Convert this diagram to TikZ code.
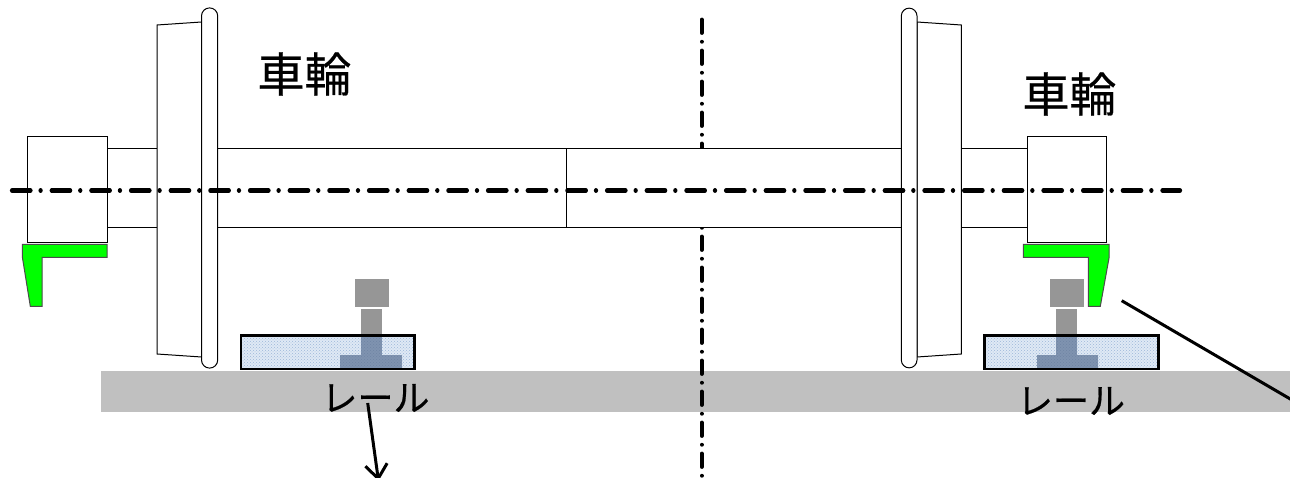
\documentclass[tikz,border=0pt]{standalone}
\usepackage{fontspec}
\newfontface\cjk{Noto Sans CJK JP}[FakeBold=0.5]
\usetikzlibrary{arrows.meta,patterns}
\definecolor{railgray}{HTML}{C0C0C0}
\definecolor{steel}{HTML}{969696}
\definecolor{padblue}{HTML}{DFE9F5}
\definecolor{paddot}{HTML}{9DB6D8}
\definecolor{steelblue}{HTML}{7F93B0}
\definecolor{steeldot}{HTML}{6F84A3}
\definecolor{bright}{HTML}{00FF00}
\tikzset{
  part/.style={draw=black,line width=1pt,fill=white,line join=miter},
  bracket/.style={draw=black!70,line width=1pt,fill=bright},
  steelpart/.style={fill=steel,draw=none},
  steelover/.style={fill=steelblue,draw=none},
  steeldots/.style={pattern=crosshatch dots,pattern color=steeldot},
  padbox/.style={fill=padblue},
  paddots/.style={pattern=crosshatch dots,pattern color=paddot},
  padline/.style={draw=black,line width=2.8pt,fill=none},
  centerh/.style={line width=4.2pt,line cap=round,dash pattern=on 18.5pt off 10.05pt on 0.1pt off 11.02pt},
  centerv/.style={line width=3.8pt,line cap=round,dash pattern=on 13.5pt off 8.7pt on 0.1pt off 8.7pt},
  leader/.style={line width=3pt},
  big/.style={inner sep=0pt,font=\cjk\fontsize{47}{47}\selectfont},
  mid/.style={inner sep=0pt,font=\cjk\fontsize{36}{36}\selectfont}
}
\begin{document}
\begin{tikzpicture}[x=1pt,y=-1pt]
\useasboundingbox (0,0) rectangle (1290,478);
\clip (0,0) rectangle (1290,478);
% ground
\fill[railgray] (101,371) rectangle (1290,412.3);
% vertical centre line
\coordinate (vtop) at (701.7,19.5);
\coordinate (vbot) at (701.7,482);
\draw[centerv] (vtop) -- (vbot);
% axle
\draw[part] (107,149) rectangle (566.5,228);
\draw[part] (566.5,149) rectangle (1027,228);
% axle boxes
\draw[part] (27,137) rectangle (107,242.5);
\draw[part] (1027,137) rectangle (1106,242.5);
% left wheel
\draw[part] (201.5,22) -- (157,25) -- (157,354) -- (201.5,357) -- cycle;
\draw[part] (201.5,16) arc[start angle=180,end angle=360,radius=8.1] -- (217.7,360) arc[start angle=0,end angle=180,radius=8.1] -- cycle;
% right wheel
\draw[part] (917,22) -- (961.3,25) -- (961.3,354) -- (917,357) -- cycle;
\draw[part] (901.3,16) arc[start angle=180,end angle=360,radius=7.85] -- (917,360) arc[start angle=0,end angle=180,radius=7.85] -- cycle;
% horizontal centre line
\coordinate (hleft) at (12,190.5);
\coordinate (hright) at (1180,190.5);
\draw[centerh] (hleft) -- (hright);
% green brackets
\draw[bracket] (22.3,244.3) -- (107,244.3) -- (107,257.3) -- (42,257.3) -- (42,306.3) -- (30.3,306.3) -- (22.3,256.7) -- cycle;
\draw[bracket] (1023.3,244.3) -- (1109,244.3) -- (1109,258) -- (1100.3,306.3) -- (1088.3,306.3) -- (1088.3,257.3) -- (1023.3,257.3) -- cycle;
% left rail and pad
\fill[padbox] (241,335.3) rectangle (414.5,369);
\fill[paddots] (241,335.3) rectangle (414.5,369);
\fill[steelpart] (355,279) rectangle (389,306.7);
\fill[steelpart] (361,309) rectangle (382,335.3);
\fill[steelover] (361,335.3) rectangle (382,355);
\fill[steelover] (340,355) rectangle (402,368);
\fill[steeldots] (361,335.3) rectangle (382,355);
\fill[steeldots] (340,355) rectangle (402,368);
\draw[padline] (241,335.3) rectangle (414.5,369);
% right rail and pad
\fill[padbox] (984.3,335.3) rectangle (1158.3,369);
\fill[paddots] (984.3,335.3) rectangle (1158.3,369);
\fill[steelpart] (1050,279) rectangle (1084,306.7);
\fill[steelpart] (1056,309) rectangle (1077,335.3);
\fill[steelover] (1056,335.3) rectangle (1077,355);
\fill[steelover] (1036.7,355) rectangle (1098,368);
\fill[steeldots] (1056,335.3) rectangle (1077,355);
\fill[steeldots] (1036.7,355) rectangle (1098,368);
\draw[padline] (984.3,335.3) rectangle (1158.3,369);
% labels
\node[big] (wheelL) at (304.5,74) {車輪};
\node[big] (wheelR) at (1069.5,94) {車輪};
\node[mid] (railL) at (375.5,398) {レール};
\node[mid] (railR) at (1071,401) {レール};
% leaders
\coordinate (arrowstart) at (367.7,403);
\coordinate (arrowtip) at (378.5,481);
\draw[leader,-{Straight Barb[length=14pt,width=22pt]}] (arrowstart) -- (arrowtip);
\coordinate (leadstart) at (1121.7,300.7);
\coordinate (leadend) at (1292,400);
\draw[leader] (leadstart) -- (leadend);
\end{tikzpicture}
\end{document}
